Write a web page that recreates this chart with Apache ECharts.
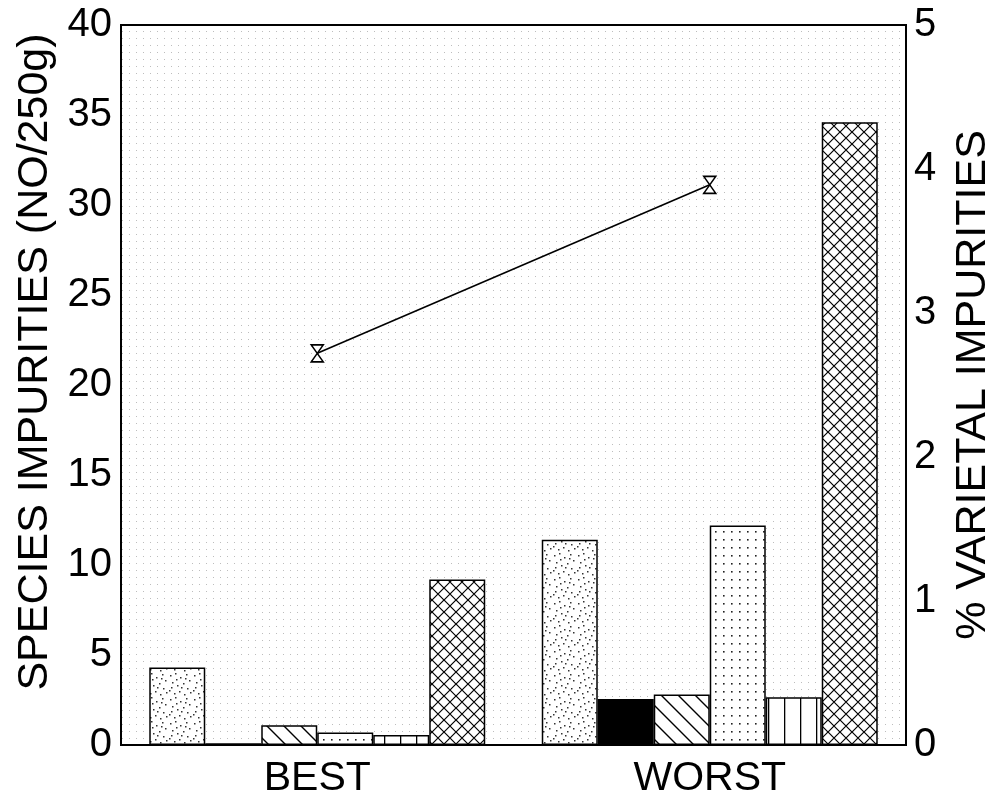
<!DOCTYPE html>
<html>
<head>
<meta charset="utf-8">
<script src="https://cdn.jsdelivr.net/npm/echarts@6/dist/echarts.min.js"></script>
<style>
html,body{margin:0;padding:0;background:#fff;}
#chart{width:998px;height:800px;}
</style>
</head>
<body>
<div id="chart"></div>
<script>
// ---- data ----
const categories = ['BEST', 'WORST'];
const speckled = [4.3, 11.4];
const solid = [0.1, 2.55];
const diagonal = [1.1, 2.8];
const dotted = [0.7, 12.2];
const vertical = [0.55, 2.65];
const crosshatch = [9.2, 34.6];
const varietal = [2.72, 3.89];
const leftTicks = {min: 0, max: 40, interval: 5};
const rightTicks = {min: 0, max: 5, interval: 1};

// ---- pattern tiles ----
function tile(w, h, draw) {
  const c = document.createElement('canvas');
  c.width = w; c.height = h;
  const ctx = c.getContext('2d');
  ctx.fillStyle = '#fff';
  ctx.fillRect(0, 0, w, h);
  ctx.fillStyle = '#000';
  ctx.strokeStyle = '#000';
  draw(ctx);
  return {image: c, repeat: 'repeat'};
}
const specks = [[2,3],[7,1],[12,5],[18,2],[21,8],[4,10],[9,13],[15,11],[19,16],[1,18],[6,21],[11,19],[16,22],[22,20],[13,15],[3,15],[8,7],[17,6]];
const patSpeckled = tile(24, 24, ctx => {
  ctx.fillStyle = '#333';
  specks.forEach(p => ctx.fillRect(p[0], p[1], 1.5, 1.5));
});
const patDotted = tile(8, 8, ctx => {
  ctx.fillStyle = '#222';
  ctx.fillRect(3, 3, 1.6, 1.6);
});
const patDiagonal = tile(17, 17, ctx => {
  ctx.lineWidth = 1.4;
  ctx.beginPath();
  ctx.moveTo(-1, -1); ctx.lineTo(18, 18);
  ctx.moveTo(-9.5, 7.5); ctx.lineTo(9.5, 26.5);
  ctx.moveTo(7.5, -9.5); ctx.lineTo(26.5, 9.5);
  ctx.stroke();
});
const patCross = tile(12, 12, ctx => {
  ctx.lineWidth = 1.2;
  ctx.beginPath();
  ctx.moveTo(-1, -1); ctx.lineTo(13, 13);
  ctx.moveTo(13, -1); ctx.lineTo(-1, 13);
  ctx.stroke();
});
const patVertical = tile(16, 8, ctx => {
  ctx.fillRect(0, 0, 1.3, 8);
});
const patBg = tile(7, 7, ctx => {
  ctx.fillStyle = '#bdbdbd';
  ctx.fillRect(3, 3, 1, 1);
});

const chart = echarts.init(document.getElementById('chart'), null, {renderer: 'canvas'});
const font = 'Liberation Sans';
function barSeries(name, data, color) {
  return {
    name: name, type: 'bar', data: data, yAxisIndex: 0,
    barGap: '0%', barCategoryGap: '14.4%',
    itemStyle: {color: color, borderColor: '#000', borderWidth: 1.5},
    emphasis: {disabled: true}
  };
}
const hourglass = 'path://M0,0 L12,0 L0,17 L12,17 Z';
chart.setOption({
  animation: false,
  backgroundColor: '#fff',
  grid: {left: 121, right: 92, top: 25, bottom: 55, show: true, outerBoundsMode: 'none',
         borderColor: '#000', borderWidth: 2, backgroundColor: patBg},
  xAxis: {
    type: 'category', data: categories,
    axisTick: {show: false},
    axisLine: {lineStyle: {color: '#000', width: 2}},
    axisLabel: {color: '#000', fontFamily: font, fontSize: 41, margin: 13}
  },
  yAxis: [{
    type: 'value', min: leftTicks.min, max: leftTicks.max, interval: leftTicks.interval,
    name: 'SPECIES IMPURITIES (NO/250g)', nameLocation: 'middle', nameGap: 64,
    nameTextStyle: {color: '#000', fontFamily: font, fontSize: 43, padding: [0, 0, 0, 46]},
    axisLine: {show: true, lineStyle: {color: '#000', width: 2}},
    axisTick: {show: false}, splitLine: {show: false},
    axisLabel: {color: '#000', fontFamily: font, fontSize: 40, margin: 9}
  }, {
    type: 'value', position: 'right', min: rightTicks.min, max: rightTicks.max, interval: rightTicks.interval,
    name: '% VARIETAL IMPURITIES', nameLocation: 'middle', nameGap: 46,
    nameTextStyle: {color: '#000', fontFamily: font, fontSize: 43},
    axisLine: {show: true, lineStyle: {color: '#000', width: 2}},
    axisTick: {show: false}, splitLine: {show: false},
    axisLabel: {color: '#000', fontFamily: font, fontSize: 40, margin: 8}
  }],
  series: [
    barSeries('speckled', speckled, patSpeckled),
    barSeries('solid', solid, '#000'),
    barSeries('diagonal', diagonal, patDiagonal),
    barSeries('dotted', dotted, patDotted),
    barSeries('vertical', vertical, patVertical),
    barSeries('crosshatch', crosshatch, patCross),
    {
      name: 'varietal', type: 'line', yAxisIndex: 1, data: varietal,
      symbol: hourglass, symbolSize: [12, 17], showAllSymbol: true,
      lineStyle: {color: '#000', width: 1.6},
      itemStyle: {color: '#fff', borderColor: '#000', borderWidth: 1.5},
      emphasis: {disabled: true}, z: 10
    }
  ]
});
</script>
</body>
</html>
